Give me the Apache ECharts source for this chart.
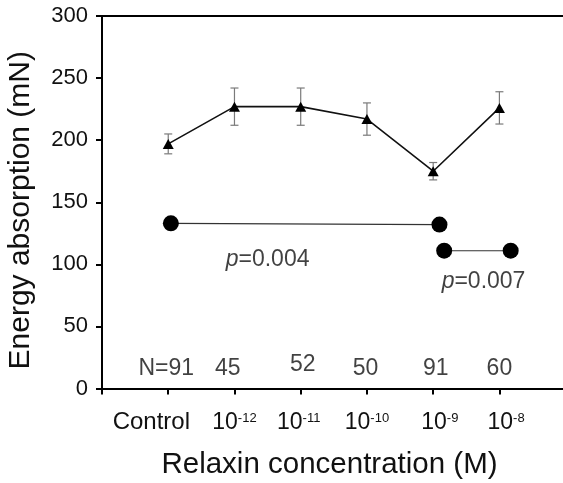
<!DOCTYPE html>
<html><head><meta charset="utf-8">
<script src="https://cdn.jsdelivr.net/npm/echarts@6/dist/echarts.min.js"></script>
<style>html,body{margin:0;padding:0;background:#fff}#c{width:563px;height:483px}</style>
</head><body><div id="c"></div>
<script>
// ---- data ----
const catBase = ['Control', '10', '10', '10', '10', '10'];
const catExp = ['', '-12', '-11', '-10', '-9', '-8'];
const catLabelPos = [0.745, 2.0, 2.97, 4.0, 5.1, 6.1];
const meanValues = [197, 227, 227, 217, 175, 226];
const errValues = [8, 15, 15, 13, 7, 13];
const nLabels = ['N=91', '45', '52', '50', '91', '60'];
const nLabelX = [0.97, 1.9, 3.03, 3.98, 5.04, 6.0];
const nLabelY = [16, 16, 19.5, 16, 16, 16];
const comp1X = [1.04, 5.095];
const comp1Y = [133, 132];
const comp2X = [5.166, 6.17];
const comp2Y = [111, 111];
const pValues = ['0.004', '0.007'];
const pLabelX = [2.5, 5.76];
const pLabelY = [104, 86];
const yTicks = [0, 50, 100, 150, 200, 250, 300];
const xTicks = [0, 1, 2, 3, 4, 5, 6];

const FONT = '"Liberation Sans", Arial, sans-serif';
const chart = echarts.init(document.getElementById('c'), null, {renderer: 'canvas'});

const axisLineStyle = {color: '#000', width: 2};

chart.setOption({
  animation: false,
  backgroundColor: '#fff',
  textStyle: {fontFamily: FONT, color: '#111'},
  grid: {left: 102, right: 0, top: 16, bottom: 94.5, containLabel: false, outerBoundsMode: 'none'},
  xAxis: [{
    type: 'value', min: 0, max: 6.96, interval: 1,
    axisLine: {show: true, lineStyle: axisLineStyle, onZero: false},
    axisTick: {show: true, length: 6, inside: false, lineStyle: {color: '#000', width: 2}, customValues: xTicks},
    splitLine: {show: false},
    axisLabel: {
      show: true, margin: 20, customValues: catLabelPos, hideOverlap: false,
      showMinLabel: true, showMaxLabel: true,
      formatter: function (v) {
        let i = -1;
        catLabelPos.forEach((p, k) => { if (Math.abs(p - v) < 1e-6) i = k; });
        if (i < 0) return '';
        if (i === 0) return '{ctl|' + catBase[0] + '}';
        return '{b|' + catBase[i] + '}{s|' + catExp[i] + '}';
      },
      rich: {
        ctl: {fontSize: 24, fontFamily: FONT, color: '#111', lineHeight: 28},
        b: {fontSize: 23, fontFamily: FONT, color: '#111', lineHeight: 28},
        s: {fontSize: 13, fontFamily: FONT, color: '#111', padding: [0, 0, 9, 0], lineHeight: 14}
      }
    },
    name: 'Relaxin concentration (M)', nameLocation: 'middle', nameGap: 61,
    nameTextStyle: {fontSize: 29.5, fontFamily: FONT, color: '#111', padding: [0, 6, 0, 0]}
  }, {
    type: 'value', position: 'top', min: 0, max: 6.96, interval: 1,
    axisLine: {show: true, lineStyle: axisLineStyle, onZero: false},
    axisTick: {show: false}, axisLabel: {show: false}, splitLine: {show: false}
  }],
  yAxis: {
    type: 'value', min: 0, max: 300, interval: 50,
    axisLine: {show: true, lineStyle: axisLineStyle, onZero: false},
    axisTick: {show: true, length: 6, inside: false, lineStyle: {color: '#000', width: 2}},
    splitLine: {show: false},
    axisLabel: {fontSize: 22, fontFamily: FONT, color: '#111', margin: 14,
      formatter: v => (yTicks.indexOf(v) >= 0 ? String(v) : '')},
    name: 'Energy absorption (mN)', nameLocation: 'middle', nameGap: 66,
    nameTextStyle: {fontSize: 30, fontFamily: FONT, color: '#111', padding: [0, 16, 0, 0]}
  },
  series: [
    {
      type: 'custom', z: 2,
      data: meanValues.map((v, i) => [i + 1, v - errValues[i], v + errValues[i]]),
      renderItem: function (params, api) {
        const x = api.value(0);
        const a = api.coord([x, api.value(1)]);
        const b = api.coord([x, api.value(2)]);
        const w = 4;
        const st = {stroke: '#7a7a7a', lineWidth: 1.2};
        return {type: 'group', children: [
          {type: 'line', shape: {x1: a[0], y1: a[1], x2: b[0], y2: b[1]}, style: st},
          {type: 'line', shape: {x1: a[0] - w, y1: a[1], x2: a[0] + w, y2: a[1]}, style: st},
          {type: 'line', shape: {x1: b[0] - w, y1: b[1], x2: b[0] + w, y2: b[1]}, style: st}
        ]};
      }
    },
    {
      type: 'line', z: 3,
      data: meanValues.map((v, i) => [i + 1, v]),
      symbol: 'triangle', symbolSize: [11, 10],
      itemStyle: {color: '#000'},
      lineStyle: {color: '#111', width: 1.6}
    },
    {
      type: 'line', z: 3,
      data: comp1X.map((x, i) => [x, comp1Y[i]]),
      symbol: 'circle', symbolSize: 16,
      itemStyle: {color: '#000'},
      lineStyle: {color: '#333', width: 1.1}
    },
    {
      type: 'line', z: 3,
      data: comp2X.map((x, i) => [x, comp2Y[i]]),
      symbol: 'circle', symbolSize: 16,
      itemStyle: {color: '#000'},
      lineStyle: {color: '#333', width: 1.1}
    },
    {
      type: 'scatter', z: 4, symbolSize: 0, silent: true,
      data: nLabels.map((t, i) => ({value: [nLabelX[i], nLabelY[i]], name: t})),
      label: {show: true, position: 'inside', formatter: p => p.name,
        fontSize: 23, fontFamily: FONT, color: '#111'}
    },
    {
      type: 'scatter', z: 4, symbolSize: 0, silent: true,
      data: pValues.map((t, i) => ({value: [pLabelX[i], pLabelY[i]], name: t})),
      label: {show: true, position: 'inside',
        formatter: p => '{i|p}{n|=' + p.name + '}',
        rich: {
          i: {fontSize: 23, fontStyle: 'italic', fontFamily: FONT, color: '#111'},
          n: {fontSize: 23, fontFamily: FONT, color: '#111'}
        }}
    }
  ]
});
</script>
</body></html>
